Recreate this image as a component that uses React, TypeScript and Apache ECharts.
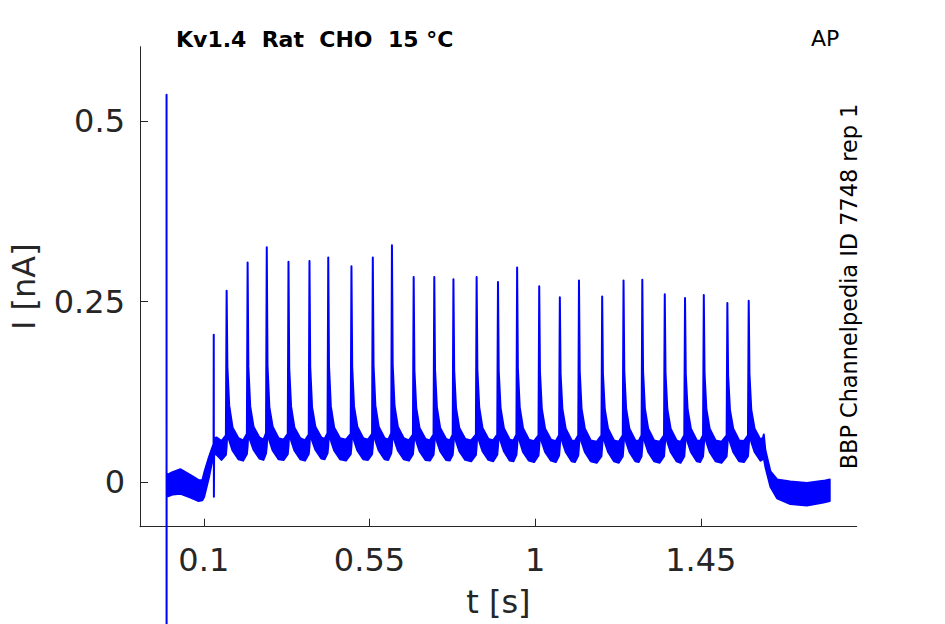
import React, { useEffect, useRef } from "react";
import * as echarts from "echarts";

// Current trace, drawn as a band: [time (s), lower edge (nA), upper edge (nA)]
const preStimulus: [number, number, number][] = [
  [-0.0012, 0.536, 0.536],
  [-0.0011, -0.5, -0.5],
  [-0.001, -0.02, 0.01],
  [0.015, -0.017, 0.014],
  [0.037, -0.016, 0.018],
  [0.064, -0.021, 0.01],
  [0.086, -0.026, 0.003],
  [0.096, -0.025, 0.003],
  [0.101, -0.02, 0.013],
  [0.114, 0.007, 0.035],
  [0.123, 0.03, 0.048],
  [0.1265, 0.036, 0.053],
  [0.127, 0.204, 0.204],
  [0.1274, -0.02, -0.02],
  [0.128, 0.04, 0.061],
  [0.135, 0.038, 0.062],
  [0.148, 0.031, 0.057],
  [0.16, 0.038, 0.065],
];

const spikeTrain: [number, number, number][] = [
  [0.162, 0.05, 0.265], [0.164, 0.07, 0.16], [0.169, 0.058, 0.106], [0.178, 0.044, 0.076], [0.194, 0.032, 0.061], [0.207, 0.03, 0.058], [0.217, 0.039, 0.067],
  [0.219, 0.05, 0.304], [0.221, 0.07, 0.16], [0.226, 0.058, 0.105], [0.235, 0.045, 0.077], [0.251, 0.033, 0.062], [0.262, 0.031, 0.059], [0.269, 0.04, 0.068],
  [0.271, 0.05, 0.325], [0.273, 0.07, 0.162], [0.278, 0.058, 0.104], [0.287, 0.044, 0.077], [0.303, 0.032, 0.061], [0.317, 0.031, 0.059], [0.328, 0.039, 0.067],
  [0.33, 0.05, 0.305], [0.332, 0.07, 0.158], [0.337, 0.058, 0.105], [0.346, 0.044, 0.076], [0.362, 0.032, 0.061], [0.375, 0.03, 0.058], [0.385, 0.039, 0.066],
  [0.387, 0.05, 0.306], [0.389, 0.07, 0.16], [0.394, 0.058, 0.104], [0.403, 0.045, 0.077], [0.419, 0.033, 0.062], [0.428, 0.032, 0.06], [0.436, 0.04, 0.068],
  [0.438, 0.05, 0.311], [0.44, 0.07, 0.161], [0.445, 0.058, 0.105], [0.454, 0.044, 0.076], [0.47, 0.032, 0.061], [0.486, 0.03, 0.059], [0.499, 0.039, 0.067],
  [0.501, 0.05, 0.299], [0.503, 0.07, 0.16], [0.508, 0.058, 0.105], [0.517, 0.044, 0.077], [0.533, 0.032, 0.061], [0.546, 0.031, 0.059], [0.557, 0.039, 0.067],
  [0.559, 0.05, 0.311], [0.561, 0.07, 0.162], [0.566, 0.058, 0.106], [0.575, 0.044, 0.077], [0.591, 0.032, 0.061], [0.601, 0.031, 0.059], [0.609, 0.04, 0.068],
  [0.611, 0.05, 0.328], [0.613, 0.07, 0.163], [0.618, 0.058, 0.106], [0.627, 0.044, 0.077], [0.643, 0.032, 0.061], [0.657, 0.03, 0.058], [0.668, 0.039, 0.066],
  [0.67, 0.05, 0.284], [0.672, 0.068, 0.155], [0.677, 0.057, 0.103], [0.686, 0.043, 0.075], [0.702, 0.031, 0.06], [0.714, 0.03, 0.058], [0.724, 0.038, 0.066],
  [0.726, 0.05, 0.284], [0.728, 0.068, 0.156], [0.733, 0.057, 0.104], [0.742, 0.043, 0.075], [0.758, 0.031, 0.06], [0.768, 0.03, 0.058], [0.776, 0.038, 0.066],
  [0.778, 0.05, 0.281], [0.78, 0.068, 0.155], [0.785, 0.057, 0.103], [0.794, 0.043, 0.075], [0.81, 0.031, 0.06], [0.826, 0.029, 0.058], [0.839, 0.038, 0.066],
  [0.841, 0.05, 0.284], [0.843, 0.068, 0.156], [0.848, 0.057, 0.104], [0.857, 0.043, 0.075], [0.873, 0.031, 0.06], [0.886, 0.029, 0.058], [0.897, 0.038, 0.066],
  [0.899, 0.05, 0.277], [0.901, 0.068, 0.154], [0.906, 0.057, 0.103], [0.915, 0.043, 0.075], [0.931, 0.03, 0.059], [0.941, 0.029, 0.058], [0.949, 0.038, 0.066],
  [0.951, 0.05, 0.297], [0.953, 0.068, 0.158], [0.958, 0.057, 0.104], [0.967, 0.042, 0.075], [0.983, 0.03, 0.059], [0.997, 0.028, 0.057], [1.009, 0.037, 0.065],
  [1.011, 0.05, 0.271], [1.013, 0.067, 0.153], [1.018, 0.056, 0.102], [1.027, 0.042, 0.074], [1.043, 0.03, 0.059], [1.056, 0.028, 0.057], [1.065, 0.037, 0.065],
  [1.067, 0.05, 0.256], [1.069, 0.067, 0.15], [1.074, 0.056, 0.101], [1.083, 0.042, 0.074], [1.099, 0.029, 0.058], [1.108, 0.028, 0.057], [1.117, 0.037, 0.065],
  [1.119, 0.05, 0.279], [1.121, 0.067, 0.154], [1.126, 0.056, 0.102], [1.135, 0.042, 0.074], [1.151, 0.029, 0.058], [1.167, 0.027, 0.056], [1.18, 0.036, 0.065],
  [1.182, 0.05, 0.257], [1.184, 0.067, 0.15], [1.189, 0.056, 0.101], [1.198, 0.042, 0.074], [1.214, 0.029, 0.058], [1.227, 0.027, 0.056], [1.238, 0.036, 0.065],
  [1.24, 0.05, 0.279], [1.242, 0.067, 0.154], [1.247, 0.056, 0.102], [1.256, 0.042, 0.074], [1.272, 0.029, 0.058], [1.281, 0.028, 0.057], [1.289, 0.036, 0.065],
  [1.291, 0.05, 0.28], [1.293, 0.067, 0.154], [1.298, 0.056, 0.102], [1.307, 0.042, 0.074], [1.323, 0.029, 0.058], [1.338, 0.027, 0.056], [1.35, 0.036, 0.065],
  [1.352, 0.05, 0.26], [1.354, 0.067, 0.151], [1.359, 0.056, 0.101], [1.368, 0.042, 0.074], [1.384, 0.029, 0.058], [1.395, 0.027, 0.056], [1.405, 0.036, 0.065],
  [1.407, 0.05, 0.255], [1.409, 0.067, 0.15], [1.414, 0.056, 0.101], [1.423, 0.042, 0.074], [1.439, 0.029, 0.058], [1.448, 0.028, 0.057], [1.456, 0.036, 0.065],
  [1.458, 0.05, 0.259], [1.46, 0.067, 0.151], [1.465, 0.056, 0.101], [1.474, 0.042, 0.074], [1.49, 0.029, 0.058], [1.506, 0.027, 0.056], [1.52, 0.036, 0.065],
  [1.522, 0.05, 0.248], [1.524, 0.067, 0.149], [1.529, 0.056, 0.1], [1.538, 0.042, 0.074], [1.554, 0.029, 0.058], [1.567, 0.028, 0.057], [1.578, 0.036, 0.065],
  [1.58, 0.05, 0.251], [1.582, 0.067, 0.15], [1.587, 0.056, 0.1], [1.596, 0.042, 0.074], [1.612, 0.03, 0.059], [1.619, 0.032, 0.062],
];

const postStimulus: [number, number, number][] = [
  [1.621, 0.034, 0.066],
  [1.625, 0.022, 0.045],
  [1.639, -0.006, 0.015],
  [1.657, -0.022, 0.004],
  [1.693, -0.03, 0.001],
  [1.738, -0.032, -0.001],
  [1.783, -0.028, 0.002],
  [1.8, -0.026, 0.004],
];

const xTicks = [0.1, 0.55, 1, 1.45];
const yTicks = [0, 0.25, 0.5];
const xRange = [-0.0733, 1.8733];
const yRange = [-0.0614, 0.6025];

const titleText = "Kv1.4  Rat  CHO  15 °C";
const cornerText = "AP";
const sideText = "BBP Channelpedia ID 7748 rep 1";

const FONT = "DejaVu Sans";
const AXIS_COLOR = "#262626";
const TRACE = "#0000ff";

export default function App() {
  const ref = useRef<HTMLDivElement>(null);

  useEffect(() => {
    document.body.style.margin = "0";
    if (!ref.current) return;
    const chart = echarts.init(ref.current, undefined, { renderer: "svg" });
    const trace = [...preStimulus, ...spikeTrain, ...postStimulus];

    const axisCommon = {
      type: "value" as const,
      axisLine: { show: true, onZero: false, lineStyle: { color: AXIS_COLOR, width: 1 } },
      axisTick: { show: true, inside: true, length: 8, lineStyle: { color: AXIS_COLOR, width: 1 } },
      splitLine: { show: false },
      nameTextStyle: { fontFamily: FONT, fontSize: 32, color: AXIS_COLOR },
    };

    chart.setOption({
      animation: false,
      backgroundColor: "#ffffff",
      textStyle: { fontFamily: FONT },
      grid: { left: 138.5, right: 88.3, top: 46.7, bottom: 97.3, containLabel: false },
      xAxis: {
        ...axisCommon,
        min: xRange[0],
        max: xRange[1],
        name: "t [s]",
        nameLocation: "middle",
        nameGap: 59,
        axisTick: { ...axisCommon.axisTick, customValues: xTicks },
        axisLabel: {
          customValues: xTicks,
          fontFamily: FONT,
          fontSize: 32,
          color: AXIS_COLOR,
          margin: 17,
        },
      },
      yAxis: {
        ...axisCommon,
        min: yRange[0],
        max: yRange[1],
        name: "I [nA]",
        nameLocation: "middle",
        nameGap: 100,
        axisTick: { ...axisCommon.axisTick, customValues: yTicks },
        axisLabel: {
          customValues: yTicks,
          fontFamily: FONT,
          fontSize: 32,
          color: AXIS_COLOR,
          margin: 15,
        },
      },
      series: [
        {
          type: "custom",
          coordinateSystem: "cartesian2d",
          clip: false,
          data: trace,
          encode: { x: 0, y: [1, 2] },
          renderItem: (params: any, api: any) => {
            if (params.dataIndex !== 0) return null;
            const upper = trace.map((p) => api.coord([p[0], p[2]]));
            const lower = trace.map((p) => api.coord([p[0], p[1]])).reverse();
            return {
              type: "polygon",
              shape: { points: [...upper, ...lower] },
              style: {
                fill: TRACE,
                stroke: TRACE,
                lineWidth: 2,
                lineJoin: "round",
              },
            };
          },
        },
      ],
      graphic: [
        {
          type: "text",
          left: 176,
          top: 28,
          style: {
            text: titleText,
            fontFamily: FONT,
            fontWeight: "bold",
            fontSize: 22,
            fill: "#000000",
          },
        },
        {
          type: "text",
          left: 811,
          top: 27,
          style: {
            text: cornerText,
            fontFamily: FONT,
            fontSize: 22,
            fill: "#000000",
          },
        },
        {
          type: "text",
          x: 849,
          y: 286.5,
          rotation: Math.PI / 2,
          style: {
            text: sideText,
            fontFamily: FONT,
            fontSize: 22.4,
            fill: "#000000",
            align: "center",
            verticalAlign: "middle",
          },
        },
      ],
    });

    return () => chart.dispose();
  }, []);

  return (
    <div
      ref={ref}
      style={{ position: "fixed", left: 0, top: 0, width: 945, height: 624 }}
    />
  );
}
